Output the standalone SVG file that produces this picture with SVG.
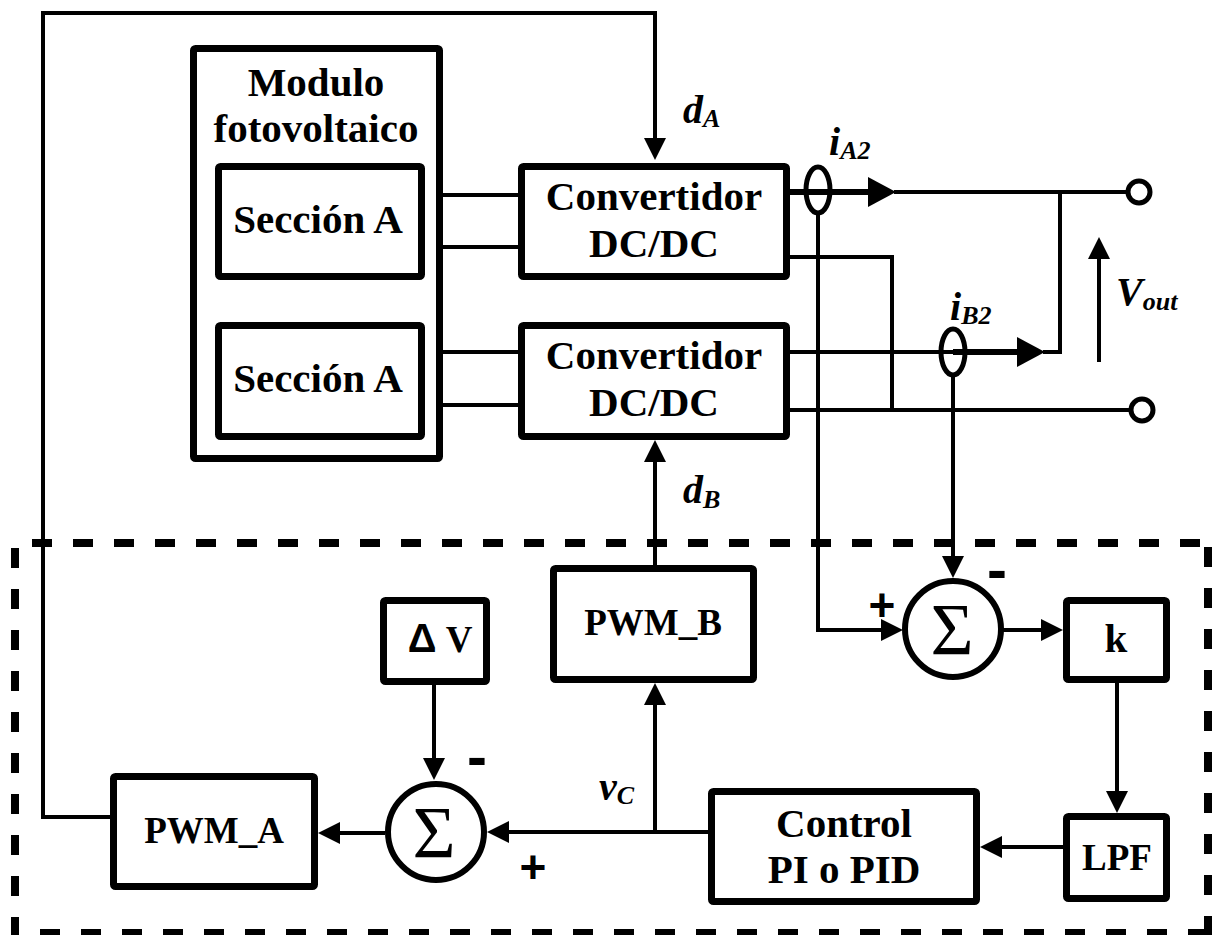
<svg xmlns="http://www.w3.org/2000/svg" width="1212" height="935" viewBox="0 0 1212 935">
<style>
.box{fill:#fff;stroke:#000;stroke-width:7;stroke-linejoin:round}
.w{fill:none;stroke:#000;stroke-width:4}
.wt{fill:none;stroke:#000;stroke-width:6}
.dash{fill:none;stroke:#000;stroke-width:8;stroke-dasharray:20 21}
.t{font-family:"Liberation Serif",serif;font-weight:bold;font-size:41px;text-anchor:middle;fill:#000}
.tc{font-family:"Liberation Serif",serif;font-weight:bold;font-size:37px;text-anchor:middle;fill:#000}
.lab{font-family:"Liberation Serif",serif;font-weight:bold;font-style:italic;font-size:40px;fill:#000}
.sig{font-family:"Liberation Serif",serif;font-size:74px;text-anchor:middle;fill:#000}
.sg{font-family:"Liberation Sans",sans-serif;font-weight:bold;font-size:46px;text-anchor:middle;fill:#000}
.mn{font-family:"Liberation Sans",sans-serif;font-weight:bold;font-size:60px;text-anchor:middle;fill:#000}
</style>
<defs>
<marker id="ar" viewBox="0 0 22 22" refX="12" refY="11" markerWidth="22" markerHeight="22" markerUnits="userSpaceOnUse" orient="auto">
<path d="M0,0 L22,11 L0,22 z" fill="#000"/>
</marker>
</defs>
<rect width="1212" height="935" fill="#fff"/>

<g id="control-region">
<line class="dash" x1="32" y1="543" x2="1212" y2="543"/>
<line class="dash" x1="15" y1="548" x2="15" y2="935"/>
<line class="dash" x1="40" y1="933" x2="1212" y2="933"/>
<line class="dash" x1="1208" y1="547" x2="1208" y2="935"/>
</g>

<g id="connectors">
<path class="w" d="M110,817 H43 V13 H655 V150" marker-end="url(#ar)"/>
<path class="w" d="M425,195 H518 M425,247 H518 M425,352 H518 M425,405 H518"/>
<path class="wt" d="M790,192 H870"/>
<polygon points="868,177 896,192 868,207" fill="#000"/>
<path class="w" d="M894,192 H1127"/>
<path class="w" d="M790,257 H892 V410"/>
<path class="w" d="M790,352 H953"/>
<path class="wt" d="M953,352 H1020"/>
<polygon points="1017,337 1045,352 1017,367" fill="#000"/>
<path class="w" d="M1043,352 H1060 V190"/>
<path class="w" d="M790,410 H1130"/>
<path class="w" d="M1099,362 V247" marker-end="url(#ar)"/>
<path class="w" d="M818,215 V630 H893" marker-end="url(#ar)"/>
<path class="w" d="M953,377 V568" marker-end="url(#ar)"/>
<path class="w" d="M1003,630 H1053" marker-end="url(#ar)"/>
<path class="w" d="M1117,683 V803" marker-end="url(#ar)"/>
<path class="w" d="M1063,847 H990" marker-end="url(#ar)"/>
<path class="w" d="M708,832 H497" marker-end="url(#ar)"/>
<path class="w" d="M655,832 V693" marker-end="url(#ar)"/>
<path class="w" d="M655,565 V450" marker-end="url(#ar)"/>
<path class="w" d="M434,685 V770" marker-end="url(#ar)"/>
<path class="w" d="M385,833 H328" marker-end="url(#ar)"/>
</g>

<g id="sensor-iA2">
<ellipse cx="818" cy="190" rx="12" ry="23" fill="none" stroke="#000" stroke-width="5"/>
<text class="lab" x="829" y="155">i<tspan font-size="26" dy="4">A2</tspan></text>
</g>
<g id="sensor-iB2">
<ellipse cx="953" cy="352" rx="12" ry="23" fill="none" stroke="#000" stroke-width="5"/>
<text class="lab" x="950" y="320">i<tspan font-size="26" dy="4">B2</tspan></text>
</g>
<g id="terminal-top"><circle cx="1139" cy="192" r="11" fill="#fff" stroke="#000" stroke-width="5"/></g>
<g id="terminal-bottom"><circle cx="1142" cy="410" r="11" fill="#fff" stroke="#000" stroke-width="5"/></g>
<g id="vout-label"><text class="lab" x="1116" y="305">V<tspan font-size="26" dy="5">out</tspan></text></g>
<g id="dA-label"><text class="lab" x="683" y="123">d<tspan font-size="26" dy="4">A</tspan></text></g>
<g id="dB-label"><text class="lab" x="683" y="503">d<tspan font-size="26" dy="5">B</tspan></text></g>
<g id="vC-label"><text class="lab" x="599" y="800">v<tspan font-size="26" dy="4">C</tspan></text></g>

<g id="modulo">
<rect class="box" x="193.5" y="48.5" width="246" height="410" rx="2"/>
<text class="t" x="316" y="96">Modulo</text>
<text class="t" x="316" y="142">fotovoltaico</text>
</g>
<g id="seccion-a-1">
<rect class="box" x="218.5" y="166.5" width="203" height="110" rx="2"/>
<text class="t" x="318" y="233">Sección A</text>
</g>
<g id="seccion-a-2">
<rect class="box" x="218.5" y="325.5" width="203" height="111" rx="2"/>
<text class="t" x="318" y="392">Sección A</text>
</g>
<g id="convertidor-a">
<rect class="box" x="521.5" y="166.5" width="265" height="110" rx="2"/>
<text class="t" x="654" y="210">Convertidor</text>
<text class="t" x="654" y="257">DC/DC</text>
</g>
<g id="convertidor-b">
<rect class="box" x="521.5" y="325.5" width="265" height="111" rx="2"/>
<text class="t" x="654" y="369">Convertidor</text>
<text class="t" x="654" y="416">DC/DC</text>
</g>
<g id="pwm-b">
<rect class="box" x="553.5" y="568.5" width="200" height="111" rx="2"/>
<text class="tc" x="653" y="635">PWM_B</text>
</g>
<g id="delta-v">
<rect class="box" x="383.5" y="600.5" width="103" height="81" rx="2"/>
<text class="tc" x="440" y="652"><tspan font-family="Liberation Sans, sans-serif" font-size="40">Δ</tspan> V</text>
</g>
<g id="sum-b">
<circle cx="953" cy="629" r="48" fill="#fff" stroke="#000" stroke-width="6"/>
<text class="sig" x="952" y="655">Σ</text>
<text class="mn" x="997" y="590">-</text>
<text class="sg" x="882" y="621">+</text>
</g>
<g id="k">
<rect class="box" x="1066.5" y="600.5" width="100" height="79" rx="2"/>
<text class="t" x="1116" y="652">k</text>
</g>
<g id="pwm-a">
<rect class="box" x="113.5" y="776.5" width="201" height="110" rx="2"/>
<text class="tc" x="214" y="843">PWM_A</text>
</g>
<g id="sum-a">
<circle cx="436" cy="832" r="48" fill="#fff" stroke="#000" stroke-width="6"/>
<text class="sig" x="434" y="858">Σ</text>
<text class="mn" x="477" y="777">-</text>
<text class="sg" x="533" y="883">+</text>
</g>
<g id="control">
<rect class="box" x="711.5" y="791.5" width="265" height="110" rx="2"/>
<text class="t" x="844" y="837">Control</text>
<text class="t" x="844" y="883">PI o PID</text>
</g>
<g id="lpf">
<rect class="box" x="1066.5" y="816.5" width="100" height="82" rx="2"/>
<text class="tc" x="1117" y="870">LPF</text>
</g>
</svg>
